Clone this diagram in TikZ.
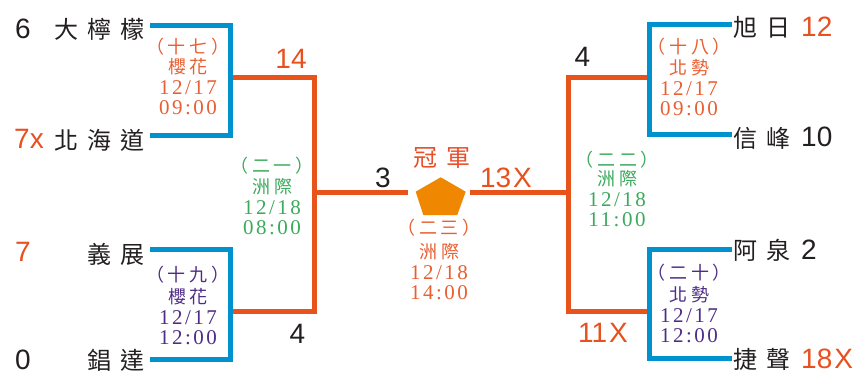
\documentclass[tikz,border=0pt]{standalone}
\usepackage{fontspec}
\setmainfont{Liberation Sans}
\newfontfamily\cjk{Noto Sans CJK TC}
\newfontfamily\digf[LetterSpace=12]{Liberation Serif}
\definecolor{lineor}{HTML}{E8531C}
\definecolor{lineblue}{HTML}{0092CF}
\definecolor{pent}{HTML}{F08700}
\definecolor{txtblack}{HTML}{231F20}
\definecolor{scor}{HTML}{E8501E}
\definecolor{boxor}{HTML}{E95F32}
\definecolor{boxpur}{HTML}{4E2D87}
\definecolor{boxgrn}{HTML}{3CAA5C}
\definecolor{champc}{HTML}{E8502A}
\newcommand\gapN{\hspace{9pt}}
\newcommand\gapS{\hspace{4pt}}
\newcommand\minfo[9]{%
  \node[smcjk, text=#2] (#1p) at (#3,#4) {#5};
  \node[smcjk, text=#2] (#1v) at (#3,#9) {#6};
  \node[smdig, text=#2] (#1d) at (#3,#9+20.5) {#7};
  \node[smdig, text=#2] (#1t) at (#3,#9+41) {#8};
}
\begin{document}
\begin{tikzpicture}[x=1pt,y=-1pt,
  blueline/.style={draw=lineblue, line width=5pt},
  orline/.style={draw=lineor, line width=5pt},
  teamname/.style={font=\cjk\fontsize{24}{24}\selectfont, text=txtblack, inner sep=0pt},
  score/.style={font=\fontsize{28}{28}\selectfont, text=txtblack, inner sep=0pt},
  smcjk/.style={font=\cjk\fontsize{18}{18}\selectfont, inner sep=0pt},
  smdig/.style={font=\digf\fontsize{21}{21}\selectfont, inner sep=0pt}]
\useasboundingbox (0,0) rectangle (861,374);
\fill[white] (0,0) rectangle (861,374);

% ---- bracket coordinates ----
\coordinate (LTa) at (150,25.5);  \coordinate (LTb) at (230,25.5);
\coordinate (LTc) at (230,135.5); \coordinate (LTd) at (150,135.5);
\coordinate (LBa) at (150,249.5); \coordinate (LBb) at (230,249.5);
\coordinate (LBc) at (230,359);   \coordinate (LBd) at (150,359);
\coordinate (RTa) at (732,25);    \coordinate (RTb) at (649.5,25);
\coordinate (RTc) at (649.5,135); \coordinate (RTd) at (732,135);
\coordinate (RBa) at (732,249.5); \coordinate (RBb) at (649.5,249.5);
\coordinate (RBc) at (649.5,358.3); \coordinate (RBd) at (732,358.3);
\coordinate (LOa) at (232,77.5);  \coordinate (LOb) at (314,77.5);
\coordinate (LOc) at (314,311.7); \coordinate (LOd) at (232,311.7);
\coordinate (ROa) at (647,77.5);  \coordinate (ROb) at (568,77.5);
\coordinate (ROc) at (568,311.5); \coordinate (ROd) at (647,311.5);
\coordinate (CLa) at (314,192.3); \coordinate (CLb) at (408,192.3);
\coordinate (CRa) at (470,192.3); \coordinate (CRb) at (568,192.3);

% ---- orange lines ----
\draw[orline] (LOa) -- (LOb) -- (LOc) -- (LOd);
\draw[orline] (ROa) -- (ROb) -- (ROc) -- (ROd);
\draw[orline] (CLa) -- (CLb);
\draw[orline] (CRa) -- (CRb);

% ---- blue brackets ----
\draw[blueline] (LTa) -- (LTb) -- (LTc) -- (LTd);
\draw[blueline] (LBa) -- (LBb) -- (LBc) -- (LBd);
\draw[blueline] (RTa) -- (RTb) -- (RTc) -- (RTd);
\draw[blueline] (RBa) -- (RBb) -- (RBc) -- (RBd);

% ---- pentagon ----
\coordinate (P1) at (440.7,177.3);
\coordinate (P2) at (465.7,191.7);
\coordinate (P3) at (457.3,215);
\coordinate (P4) at (423.3,215);
\coordinate (P5) at (415.7,191.7);
\fill[pent] (P1) -- (P2) -- (P3) -- (P4) -- (P5) -- cycle;
\node[font=\cjk\fontsize{24}{24}\selectfont, text=champc, inner sep=0pt] (champ) at (442,158) {冠\hspace{9pt}軍};

% ---- left teams ----
\node[score, anchor=west] (s6) at (15,29) {6};
\node[teamname, anchor=east] (t1) at (145,29) {大\gapN 檸\gapN 檬};
\node[score, anchor=west, text=scor] (s7x) at (14,139) {7x};
\node[teamname, anchor=east] (t2) at (145,140) {北\gapN 海\gapN 道};
\node[score, anchor=west, text=scor] (s7) at (15,252) {7};
\node[teamname, anchor=east] (t3) at (145,254) {義\gapN 展};
\node[score, anchor=west] (s0) at (15,360) {0};
\node[teamname, anchor=east] (t4) at (145,360) {錩\gapN 達};

% ---- right teams ----
\node[teamname, anchor=west] (t5) at (733,27) {旭\gapN 日};
\node[score, anchor=west, text=scor] (s12) at (801,27) {12};
\node[teamname, anchor=west] (t6) at (733,138) {信\gapN 峰};
\node[score, anchor=west] (s10) at (801,137) {10};
\node[teamname, anchor=west] (t7) at (733,250) {阿\gapN 泉};
\node[score, anchor=west] (s2) at (801,250) {2};
\node[teamname, anchor=west] (t8) at (733,359) {捷\gapN 聲};
\node[score, anchor=west, text=scor] (s18) at (801,359) {18\kern2pt X};

% ---- middle scores ----
\node[score, text=scor] (s14) at (291,58.5) {14};
\node[score] (s4a) at (297.5,334) {4};
\node[score] (s3) at (383,178) {3};
\node[score, text=scor] (s13) at (506,178) {13\kern2pt X};
\node[score] (s4b) at (582.5,57) {4};
\node[score, text=scor] (s11) at (603,332.5) {11\kern2pt X};

% ---- match info ----
\minfo{m17}{boxor}{188}{46.7}{（\gapS 十\gapS 七\gapS ）}{櫻\gapS 花}{12/17}{09:00}{66.7}
\minfo{m18}{boxor}{689}{47}{（\gapS 十\gapS 八\gapS ）}{北\gapS 勢}{12/17}{09:00}{68}
\minfo{m19}{boxpur}{188}{275}{（\gapS 十\gapS 九\gapS ）}{櫻\gapS 花}{12/17}{12:00}{297}
\minfo{m20}{boxpur}{689}{273}{（\gapS 二\gapS 十\gapS ）}{北\gapS 勢}{12/17}{12:00}{295}
\minfo{m21}{boxgrn}{272}{166}{（\gapS 二\gapS 一\gapS ）}{洲\gapS 際}{12/18}{08:00}{187}
\minfo{m22}{boxgrn}{617}{159.5}{（\gapS 二\gapS 二\gapS ）}{洲\gapS 際}{12/18}{11:00}{179}
\minfo{m23}{boxor}{439}{228}{（\gapS 二\gapS 三\gapS ）}{洲\gapS 際}{12/18}{14:00}{252}
\end{tikzpicture}
\end{document}
